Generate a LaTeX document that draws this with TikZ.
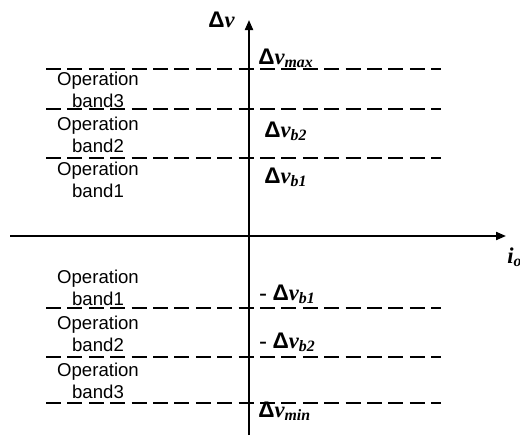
\documentclass[tikz,border=0pt]{standalone}
\usepackage{fontspec}
\setmainfont{Liberation Serif}
\setsansfont{Liberation Sans}
\usetikzlibrary{arrows.meta}
\newcommand{\dlt}{{\sffamily\upshape Δ}}
\begin{document}
\begin{tikzpicture}[x=0.5pt, y=-0.5pt,
axis/.style={line width=1pt, -{Triangle[length=5pt, width=4pt]}},
bound/.style={line width=1pt, dash pattern=on 7.5pt off 3.2pt},
band/.style={font=\sffamily\fontsize{9.3}{11}\selectfont, align=center, inner sep=0pt},
level/.style={font=\bfseries\fontsize{11.3}{13}\selectfont, anchor=base west, inner sep=0pt},
]
\useasboundingbox (0,0) rectangle (520,435);
% axes
\coordinate (vbot) at (249,435);
\coordinate (vtop) at (249,20);
\coordinate (hleft) at (10,236);
\coordinate (hright) at (506,236);
\draw[axis] (vbot) -- (vtop);
\draw[axis] (hleft) -- (hright);
\node[level, anchor=base east] (dv) at (235,27) {\dlt\itshape v};
\node[level, font=\bfseries\itshape\fontsize{11.3}{13}\selectfont] (io) at (507,263) {i\textsubscript{o}};
% band limits
\coordinate (max l) at (46,69);  \coordinate (max r) at (441,69);
\coordinate (up2 l) at (46,109); \coordinate (up2 r) at (441,109);
\coordinate (up1 l) at (46,158); \coordinate (up1 r) at (441,158);
\coordinate (lo1 l) at (46,308); \coordinate (lo1 r) at (441,308);
\coordinate (lo2 l) at (46,357); \coordinate (lo2 r) at (441,357);
\coordinate (min l) at (46,403); \coordinate (min r) at (441,403);
\draw[bound] (max l) -- (max r);
\draw[bound] (up2 l) -- (up2 r);
\draw[bound] (up1 l) -- (up1 r);
\draw[bound] (lo1 l) -- (lo1 r);
\draw[bound] (lo2 l) -- (lo2 r);
\draw[bound] (min l) -- (min r);
% levels
\node[level] (vmax) at (258,64) {\dlt\itshape v\textsubscript{max}};
\node[level] (vb2) at (264,137) {\dlt\itshape v\textsubscript{b2}};
\node[level] (vb1) at (264,183) {\dlt\itshape v\textsubscript{b1}};
\node[level] (nvb1) at (259,300) {- \dlt\itshape v\textsubscript{b1}};
\node[level] (nvb2) at (259,348) {- \dlt\itshape v\textsubscript{b2}};
\node[level] (vmin) at (258,417) {\dlt\itshape v\textsubscript{min}};
% bands
\node[band] (up band3) at (98,90) {Operation\\band3};
\node[band] (up band2) at (98,135) {Operation\\band2};
\node[band] (up band1) at (98,180) {Operation\\band1};
\node[band] (lo band1) at (98,288) {Operation\\band1};
\node[band] (lo band2) at (98,334) {Operation\\band2};
\node[band] (lo band3) at (98,381) {Operation\\band3};
\end{tikzpicture}
\end{document}
